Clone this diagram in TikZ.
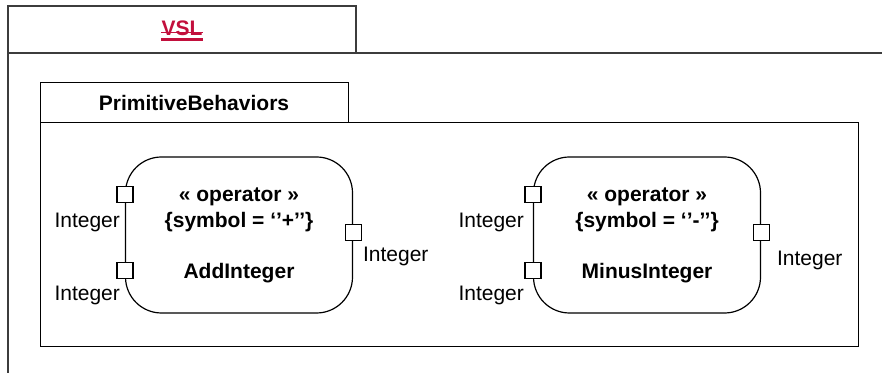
\documentclass[tikz,border=0pt]{standalone}
\usepackage{fontspec}
\setmainfont{Liberation Sans}
\usetikzlibrary{positioning,calc}
\definecolor{vslred}{HTML}{C20F3C}
\definecolor{framegray}{HTML}{3C3C3C}
\tikzset{frame/.style={line width=1pt, draw=framegray},
  pkgframe/.style={line width=0.5pt, draw=black},
  tabtext/.style={font=\bfseries\fontsize{10.5}{12.6}\selectfont, inner sep=0pt},
  opblock/.style={draw, line width=0.6pt, rounded corners=18pt,
    minimum width=113.5pt, minimum height=78pt, align=center, inner sep=0pt,
    font=\bfseries\fontsize{10.5}{13}\selectfont},
  portbox/.style={draw, fill=white, line width=0.6pt, minimum size=8pt,
    inner sep=0pt},
  portlbl/.style={font=\fontsize{10.5}{12.6}\selectfont, inner sep=0pt}}

\begin{document}
\begin{tikzpicture}[x=0.5pt, y=-0.5pt]
\useasboundingbox (0,0) rectangle (882,373);
% model frame and its tab
\draw[frame] (8,373) -- (8,6) -- (356,6) -- (356,53);
\draw[frame] (8,53) -- (882,53);
\node[tabtext, text=vslred] (vsl) at (182,28) {VSL};
\draw[vslred, line width=1.5pt] ($(vsl.base west)+(0,4)$)
  -- ($(vsl.base east)+(0,4)$);
\draw[vslred, line width=0.5pt] ($(vsl.base west)+(0,-3)$)
  -- ($(vsl.base east)+(0,-3)$);
% package
\draw[pkgframe] (40,83) rectangle (348,123);
\draw[pkgframe] (40,123) rectangle (858,346);
\node[tabtext] (pkgname) at (194,103) {PrimitiveBehaviors};
% operators with their ports
\foreach \nm/\x/\sym/\title/\lgap/\rgap/\rdrop in
    {add/239/+/AddInteger/-2pt/0.5pt/3pt,
     minus/647/-/MinusInteger/0pt/3.5pt/5pt} {
  \node[opblock] (\nm) at (\x,235)
    {« operator »\\\{symbol = ‘’\sym’{}’\}\\[12.5pt]\title};
  \node[portbox] (\nm inA) at ($(\nm.north west)+(0,38)$) {};
  \node[portbox] (\nm inB) at ($(\nm.north west)+(0,114)$) {};
  \node[portbox] (\nm out) at ($(\nm.north east)+(0,76)$) {};
  \node[portlbl, below left=5pt and \lgap of \nm inA] (\nm inAlbl) {Integer};
  \node[portlbl, below left=3.5pt and \lgap of \nm inB] (\nm inBlbl) {Integer};
  \node[portlbl, below right=\rdrop and \rgap of \nm out] (\nm outlbl)
    {Integer};
}
\end{tikzpicture}
\end{document}
